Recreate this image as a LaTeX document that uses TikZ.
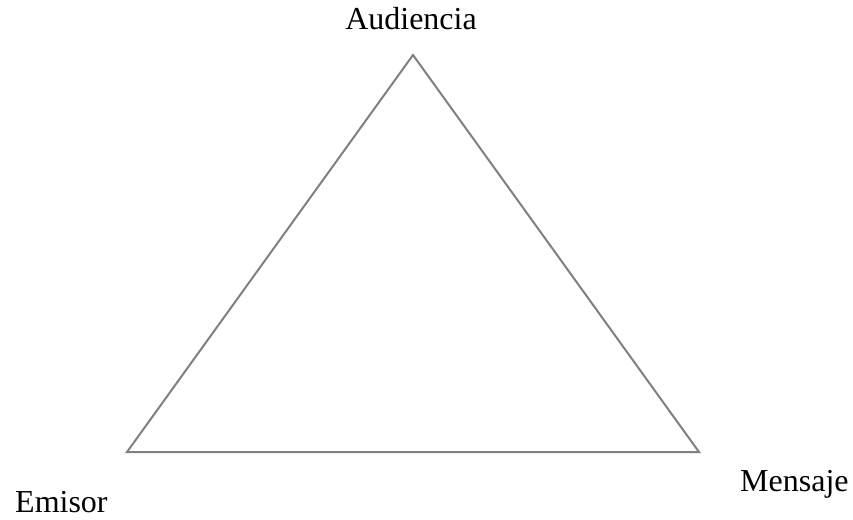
\documentclass[tikz,border=0pt]{standalone}
\usepackage{fontspec}
\setmainfont{Liberation Serif}
\definecolor{edgegray}{RGB}{128,128,128}
\begin{document}
\begin{tikzpicture}[x=1pt,y=-1pt,
  lbl/.style={inner sep=0pt,font=\fontsize{32}{36}\selectfont},
  edge/.style={draw=edgegray,line width=2pt,line join=miter}]
\useasboundingbox (0,0) rectangle (853,519);
\coordinate (A) at (413,55);
\coordinate (E) at (127,452);
\coordinate (M) at (699,452);
\draw[edge] (A) -- (M) -- (E) -- cycle;
\node[lbl,anchor=base] (la) at (411,30) {Audiencia};
\node[lbl,anchor=base west] (le) at (15,512) {Emisor};
\node[lbl,anchor=base west] (lm) at (740,491) {Mensaje};
\end{tikzpicture}
\end{document}
